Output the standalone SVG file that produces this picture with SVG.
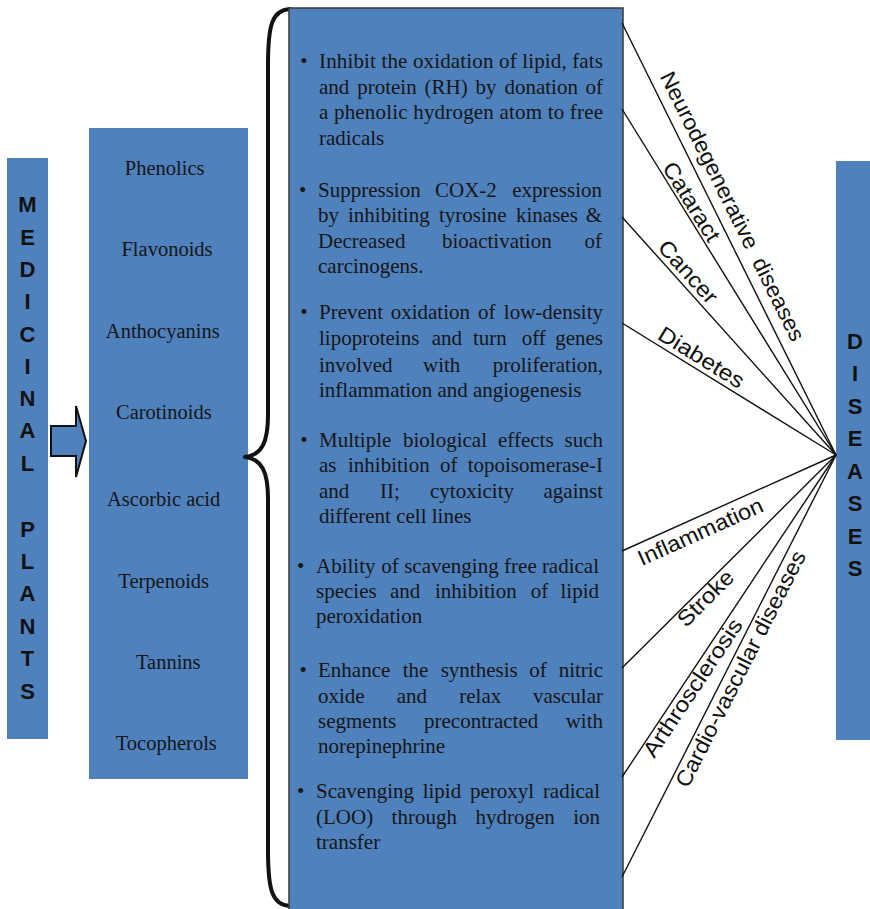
<svg xmlns="http://www.w3.org/2000/svg" width="870" height="909" viewBox="0 0 870 909">
<style>
.bar{fill:#4f81bd}
.box{fill:#4f81bd;stroke:#3a3a3a;stroke-width:1.5}
.serif{font-family:"Liberation Serif","Times New Roman",serif;fill:#161616}
.cmp{font-size:20.5px;text-anchor:middle}
.mid{font-size:21px}
.end{text-anchor:end}
.bul{text-anchor:middle}
.vert{font-family:"Liberation Sans",Arial,sans-serif;font-weight:bold;font-size:22px;text-anchor:middle;fill:#111}
.lbl{font-family:"Liberation Sans",Arial,sans-serif;font-size:22px;text-anchor:middle;fill:#111}
.conn{stroke:#111;stroke-width:1.4;fill:none}
.brace{stroke:#111;stroke-width:4;fill:none;stroke-linecap:round;stroke-linejoin:round}
</style>
<rect width="870" height="909" fill="#fff"/>

<g id="medicinal-plants">
<rect class="bar" x="7" y="158" width="41" height="581"/>
<text class="vert" x="27.5" y="212">M</text>
<text class="vert" x="27.5" y="245">E</text>
<text class="vert" x="27.5" y="277">D</text>
<text class="vert" x="27.5" y="309">I</text>
<text class="vert" x="27.5" y="342">C</text>
<text class="vert" x="27.5" y="374">I</text>
<text class="vert" x="27.5" y="406">N</text>
<text class="vert" x="27.5" y="438">A</text>
<text class="vert" x="27.5" y="471">L</text>
<text class="vert" x="27.5" y="537">P</text>
<text class="vert" x="27.5" y="569">L</text>
<text class="vert" x="27.5" y="601">A</text>
<text class="vert" x="27.5" y="634">N</text>
<text class="vert" x="27.5" y="666">T</text>
<text class="vert" x="27.5" y="699">S</text>
</g>

<g id="arrow">
<polygon points="51,426 76,426 76,406 86,441 76,477 76,456 51,456" fill="#4f81bd" stroke="#111" stroke-width="2" stroke-linejoin="miter"/>
</g>

<g id="compounds">
<rect class="bar" x="89" y="128" width="159" height="651"/>
<text class="serif cmp" x="164.7" y="175">Phenolics</text>
<text class="serif cmp" x="167" y="256">Flavonoids</text>
<text class="serif cmp" x="162.8" y="338.3">Anthocyanins</text>
<text class="serif cmp" x="163.8" y="419.3">Carotinoids</text>
<text class="serif cmp" x="163.7" y="505.7">Ascorbic acid</text>
<text class="serif cmp" x="163.7" y="588.3">Terpenoids</text>
<text class="serif cmp" x="168.3" y="669.3">Tannins</text>
<text class="serif cmp" x="166.3" y="750">Tocopherols</text>
</g>

<g id="brace">
<path class="brace" d="M290,9 C272,10 268,25 268,65 L268,415 C268,442 262,455 245,457 C262,459 268,472 268,499 L268,850 C268,890 272,905 290,906"/>
</g>

<g id="effects">
<rect class="box" x="289" y="8" width="334" height="910"/>
<g class="serif mid">
<text class="bul" x="304" y="68">•</text>
<text x="319" y="68" textLength="284" lengthAdjust="spacing">Inhibit the oxidation of lipid, fats</text>
<text y="93.5"><tspan x="319">and</tspan><tspan x="357.2">protein</tspan><tspan x="424.5">(RH)</tspan><tspan x="475.5">by</tspan><tspan x="504.4">donation</tspan></text>
<text class="end" x="603" y="93.5">of</text>
<text x="319" y="119" textLength="284" lengthAdjust="spacing">a phenolic hydrogen atom to free</text>
<text x="319" y="144.5">radicals</text>

<text class="bul" x="302.7" y="196.7">•</text>
<text y="196.7"><tspan x="318">Suppression</tspan><tspan x="435">COX-2</tspan></text>
<text class="end" x="602" y="196.7">expression</text>
<text y="222"><tspan x="318">by</tspan><tspan x="348">inhibiting</tspan><tspan x="439">tyrosine</tspan><tspan x="516">kinases</tspan></text>
<text class="end" x="602" y="222">&amp;</text>
<text y="248"><tspan x="318">Decreased</tspan><tspan x="442">bioactivation</tspan></text>
<text class="end" x="602" y="248">of</text>
<text x="318" y="273">carcinogens.</text>

<text class="bul" x="304" y="319.3">•</text>
<text y="319.3"><tspan x="319">Prevent</tspan><tspan x="390.7">oxidation</tspan><tspan x="478">of</tspan></text>
<text class="end" x="603" y="319.3">low-density</text>
<text y="345"><tspan x="319">lipoproteins</tspan><tspan x="431.7">and</tspan><tspan x="473">turn</tspan><tspan x="521.7">off</tspan></text>
<text class="end" x="603" y="345">genes</text>
<text y="371.7"><tspan x="319">involved</tspan><tspan x="423">with</tspan></text>
<text class="end" x="603" y="371.7">proliferation,</text>
<text x="319" y="396.7">inflammation and angiogenesis</text>

<text class="bul" x="304" y="446.7">•</text>
<text y="446.7"><tspan x="319">Multiple</tspan><tspan x="403">biological</tspan><tspan x="498">effects</tspan></text>
<text class="end" x="603" y="446.7">such</text>
<text y="471.7"><tspan x="319">as</tspan><tspan x="348">inhibition</tspan><tspan x="440">of</tspan></text>
<text class="end" x="603" y="471.7">topoisomerase-I</text>
<text y="498.3"><tspan x="319">and</tspan><tspan x="380">II;</tspan><tspan x="430">cytoxicity</tspan></text>
<text class="end" x="603" y="498.3">against</text>
<text x="319" y="523.3">different cell lines</text>

<text class="bul" x="300.7" y="572.7">•</text>
<text y="572.7"><tspan x="316">Ability</tspan><tspan x="381.2">of</tspan><tspan x="404.2">scavenging</tspan><tspan x="504.1">free</tspan></text>
<text class="end" x="599" y="572.7">radical</text>
<text y="598.3"><tspan x="316">species</tspan><tspan x="390">and</tspan><tspan x="435">inhibition</tspan><tspan x="530.7">of</tspan></text>
<text class="end" x="599" y="598.3">lipid</text>
<text x="316" y="623.3">peroxidation</text>

<text class="bul" x="303.3" y="676.7">•</text>
<text y="676.7"><tspan x="318">Enhance</tspan><tspan x="402.7">the</tspan><tspan x="440.7">synthesis</tspan><tspan x="529.3">of</tspan></text>
<text class="end" x="603" y="676.7">nitric</text>
<text y="702.7"><tspan x="318">oxide</tspan><tspan x="396.7">and</tspan><tspan x="459.3">relax</tspan></text>
<text class="end" x="603" y="702.7">vascular</text>
<text y="727.7"><tspan x="318">segments</tspan><tspan x="424">precontracted</tspan></text>
<text class="end" x="603" y="727.7">with</text>
<text x="318" y="753.3">norepinephrine</text>

<text class="bul" x="300.7" y="798.3">•</text>
<text y="798.3"><tspan x="316">Scavenging</tspan><tspan x="422.7">lipid</tspan><tspan x="469.9">peroxyl</tspan></text>
<text class="end" x="600" y="798.3">radical</text>
<text y="824"><tspan x="316">(LOO)</tspan><tspan x="391.6">through</tspan><tspan x="475.4">hydrogen</tspan></text>
<text class="end" x="600" y="824">ion</text>
<text x="316" y="849.3">transfer</text>
</g>
</g>

<g id="diseases">
<rect class="bar" x="836" y="161" width="40" height="579"/>
<text class="vert" x="855" y="349">D</text>
<text class="vert" x="855" y="381">I</text>
<text class="vert" x="855" y="414">S</text>
<text class="vert" x="855" y="446">E</text>
<text class="vert" x="855" y="479">A</text>
<text class="vert" x="855" y="511">S</text>
<text class="vert" x="855" y="544">E</text>
<text class="vert" x="855" y="576">S</text>
</g>

<g id="connectors">
<line class="conn" x1="622" y1="23" x2="836" y2="455"/>
<line class="conn" x1="622" y1="109" x2="836" y2="455"/>
<line class="conn" x1="622" y1="217" x2="836" y2="455"/>
<line class="conn" x1="622" y1="323" x2="836" y2="455"/>
<line class="conn" x1="622" y1="551" x2="836" y2="455"/>
<line class="conn" x1="622" y1="668" x2="836" y2="455"/>
<line class="conn" x1="622" y1="777" x2="836" y2="455"/>
<line class="conn" x1="622" y1="877" x2="836" y2="455"/>
</g>

<g id="connector-labels">
<text class="lbl" transform="translate(716.8,214.1) rotate(63.6)" x="0" y="-10" word-spacing="6" textLength="298" lengthAdjust="spacingAndGlyphs">Neurodegenerative diseases</text>
<text class="lbl" transform="translate(682.7,207.3) rotate(58.3)" x="0" y="-3" textLength="89" lengthAdjust="spacingAndGlyphs">Cataract</text>
<text class="lbl" transform="translate(678.8,280.1) rotate(48)" x="0" y="-5" textLength="77" lengthAdjust="spacingAndGlyphs">Cancer</text>
<text class="lbl" transform="translate(694.8,367.9) rotate(31.7)" x="0" y="-5" textLength="97" lengthAdjust="spacingAndGlyphs">Diabetes</text>
<text class="lbl" transform="translate(694.3,518.5) rotate(-24.2)" x="0" y="22" textLength="135" lengthAdjust="spacingAndGlyphs">Inflammation</text>
<text class="lbl" transform="translate(698.8,591.4) rotate(-44.9)" x="0" y="17" textLength="70" lengthAdjust="spacingAndGlyphs">Stroke</text>
<text class="lbl" transform="translate(684.7,682.6) rotate(-56.4)" x="0" y="17" textLength="161" lengthAdjust="spacingAndGlyphs">Arthrosclerosis</text>
<text class="lbl" transform="translate(730.2,663.7) rotate(-63.1)" x="0" y="19" textLength="262" lengthAdjust="spacingAndGlyphs">Cardio-vascular diseases</text>
</g>
</svg>
